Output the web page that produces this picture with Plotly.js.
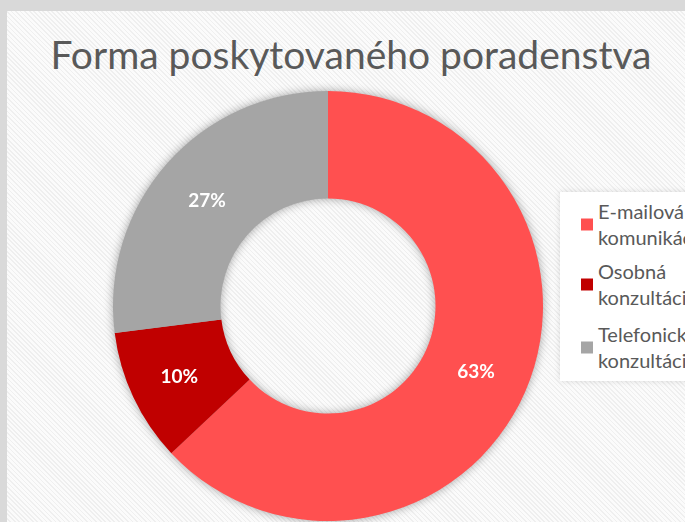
<!DOCTYPE html>
<html>
<head>
<meta charset="utf-8">
<script src="https://cdn.plot.ly/plotly-3.0.1.min.js"></script>
<style>
  html, body { margin:0; padding:0; width:685px; height:522px; overflow:hidden; background:#d9d9d9; }
  #frame { position:absolute; left:7px; top:11px; width:678px; height:511px;
    background: repeating-linear-gradient(45deg, #fbfbfb 0px, #fbfbfb 2px, #efefef 2px, #efefef 3.2px); }
  #chart { position:absolute; left:0; top:0; width:685px; height:522px; }
  #chart .pielayer { filter: drop-shadow(0px 0px 5px rgba(0,0,0,0.35)); }
  #chart .legend .bg { filter: drop-shadow(0px 0px 3px rgba(0,0,0,0.12)); }
</style>
</head>
<body>
<div id="frame"></div>
<div id="chart"></div>
<script>
const categories = ["E-mailová<br>komunikácia", "Osobná<br>konzultácia", "Telefonická<br>konzultácia"];
const shares = [63, 10, 27];
const colors = ["#FF5050", "#C00000", "#A5A5A5"];
const chartTitle = "Forma poskytovaného poradenstva";

const W = 685, H = 522;
const cx = 328, cy = 306, R = 215;

const trace = {
  type: "pie",
  labels: categories,
  values: shares,
  hole: 0.5,
  sort: false,
  direction: "clockwise",
  rotation: 0,
  marker: { colors: colors, line: { width: 0 } },
  textinfo: "percent",
  textposition: "inside",
  insidetextorientation: "horizontal",
  insidetextfont: { family: "Lato, 'Open Sans', sans-serif", size: 19, color: "#ffffff", weight: "bold" },
  hoverinfo: "none",
  domain: {
    x: [(cx - R) / W, (cx + R) / W],
    y: [(H - cy - R) / H, (H - cy + R) / H]
  }
};

const layout = {
  width: W, height: H,
  margin: { l: 0, r: 0, t: 0, b: 0, autoexpand: false },
  paper_bgcolor: "rgba(0,0,0,0)",
  plot_bgcolor: "rgba(0,0,0,0)",
  showlegend: true,
  title: {
    text: chartTitle,
    font: { family: "Lato, 'Open Sans', sans-serif", size: 39, color: "#595959" },
    x: 351 / W, xanchor: "center",
    xref: "paper",
    y: 1 - 55 / H, yanchor: "middle", yref: "container"
  },
  legend: {
    x: 560 / W, xanchor: "left",
    y: 1 - 192 / H, yanchor: "top",
    bgcolor: "#ffffff",
    font: { family: "Lato, 'Open Sans', sans-serif", size: 20, color: "#595959" },
    tracegroupgap: 0,
    itemwidth: 30
  }
};

Plotly.newPlot("chart", [trace], layout, { displayModeBar: false, staticPlot: true }).then(function (gd) {
  // small spacing adjustments of legend entries (style only)
  const extra = [0, 5, 13];
  gd.querySelectorAll(".legend g.traces").forEach(function (it, i) {
    const dy = extra[i] || 0;
    const pts = it.querySelector(".legendpoints");
    const txt = it.querySelector(".legendtext");
    if (pts) pts.style.transform = "translate(7px," + dy + "px)";
    if (txt) txt.style.transform = "translate(-2px," + dy + "px)";
  });
  const bg = gd.querySelector(".legend .bg");
  if (bg) bg.setAttribute("height", (+bg.getAttribute("height")) + 14);
  document.querySelectorAll('clipPath[id^="legend"] rect').forEach(function (r) {
    r.setAttribute("height", (+r.getAttribute("height")) + 14);
  });
});
</script>
</body>
</html>
